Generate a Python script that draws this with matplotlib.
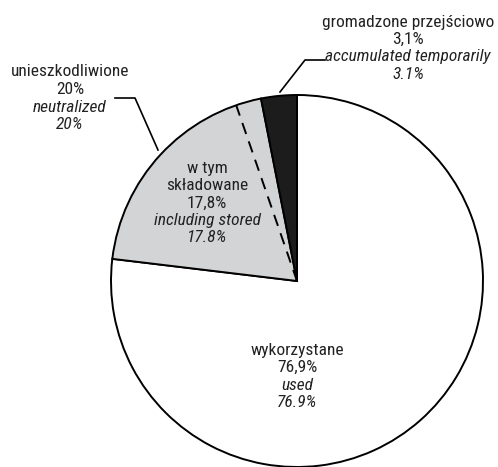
import numpy as np
import matplotlib.pyplot as plt

# data
labels_pl = ['wykorzystane', 'unieszkodliwione', 'gromadzone przejściowo']
labels_en = ['used', 'neutralized', 'accumulated temporarily']
shares = [76.9, 20.0, 3.1]
stored_pl = ['w tym', 'składowane']
stored_en = 'including stored'
stored_share = 17.8
colors = ['white', '#d3d4d6', '#1c1c1c']

plt.rcParams['font.family'] = ['Roboto Condensed', 'DejaVu Sans']

W, H = 498, 467
fig = plt.figure(figsize=(W / 100, H / 100), dpi=100)
ax = fig.add_axes([0, 0, 1, 1])

cx, cy, r = 297, H - 281, 186
ax.pie(shares, colors=colors, startangle=90, counterclock=False,
       center=(cx, cy), radius=r, frame=True,
       wedgeprops=dict(edgecolor='black', linewidth=1.4))
ax.set_xlim(0, W)
ax.set_ylim(0, H)
ax.set_aspect('equal')
ax.axis('off')

# dashed line inside the neutralized wedge
start = 90 - 360 * shares[0] / 100 + 360  # where the gray wedge starts (deg)
ang = np.radians(start - 360 * stored_share / 100)
ax.plot([cx, cx + r * np.cos(ang)], [cy, cy + r * np.sin(ang)],
        color='black', lw=1.4, ls=(0, (6, 4)))

def fmt(v, sep):
    s = ('%.1f' % v) if v != int(v) else '%d' % v
    return s.replace('.', sep) + '%'

tc = '#222222'
fs = 12.5
lh = 17.5

def block(x, y0, lines):
    for i, (t, it) in enumerate(lines):
        ax.text(x, H - (y0 + i * lh), t, ha='center', va='center', fontsize=fs,
                color=tc, style='italic' if it else 'normal')

# used
block(297, 350, [(labels_pl[0], False), (fmt(shares[0], ','), False),
                 (labels_en[0], True), (fmt(shares[0], '.'), True)])
# neutralized
block(70, 72, [(labels_pl[1], False), (fmt(shares[1], ','), False),
               (labels_en[1], True), (fmt(shares[1], '.'), True)])
# accumulated temporarily
block(408, 22, [(labels_pl[2], False), (fmt(shares[2], ','), False),
                (labels_en[2], True), (fmt(shares[2], '.'), True)])
# stored (part of neutralized)
block(207, 168, [(stored_pl[0], False), (stored_pl[1], False),
                 (fmt(stored_share, ','), False),
                 (stored_en, True), (fmt(stored_share, '.'), True)])

# leader lines
ax.plot([115, 135, 158], [H - 98, H - 98, H - 150], color='black', lw=1.2)
ax.plot([325, 305, 280], [H - 60, H - 60, H - 92], color='black', lw=1.2)

fig.savefig('out.png', dpi=100)
